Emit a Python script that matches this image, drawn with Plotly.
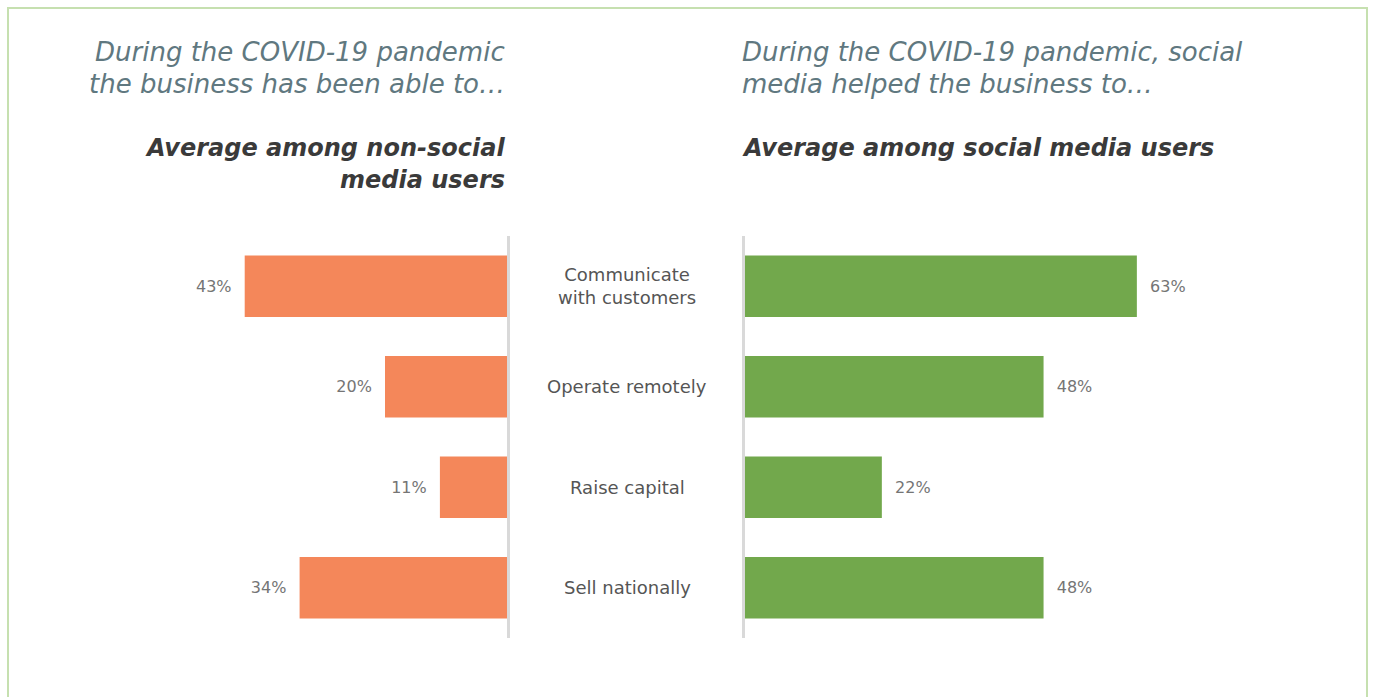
import plotly.graph_objects as go

W, H = 1373, 697

categories = ["Communicate<br>with customers", "Operate remotely", "Raise capital", "Sell nationally"]
non_social = [43, 20, 11, 34]
social = [63, 48, 22, 48]
left_title = ["During the COVID-19 pandemic", "the business has been able to…"]
left_sub = ["Average among non-social", "media users"]
right_title = ["During the COVID-19 pandemic, social", "media helped the business to…"]
right_sub = ["Average among social media users"]

ORANGE = "#F4875A"
GREEN = "#72A84C"
FONT = "DejaVu Sans"
NB = "\u00a0"

def px(x):
    return x / W

def py(y):
    return 1 - y / H

fig = go.Figure()

fig.add_trace(go.Bar(
    y=list(range(len(categories))), x=non_social, orientation="h",
    marker=dict(color=ORANGE, line=dict(width=0)), width=0.61,
    text=[f"{v}%{NB*2}" for v in non_social], textposition="outside",
    textfont=dict(family=FONT, size=16, color="#757575"),
    cliponaxis=False, xaxis="x", yaxis="y", showlegend=False, hoverinfo="skip",
))
fig.add_trace(go.Bar(
    y=list(range(len(categories))), x=social, orientation="h",
    marker=dict(color=GREEN, line=dict(width=0)), width=0.61,
    text=[f"{NB*2}{v}%" for v in social], textposition="outside",
    textfont=dict(family=FONT, size=16, color="#757575"),
    cliponaxis=False, xaxis="x2", yaxis="y2", showlegend=False, hoverinfo="skip",
))

ydom = [py(638), py(236)]
fig.update_layout(
    width=W, height=H, margin=dict(l=0, r=0, t=0, b=0),
    paper_bgcolor="white", plot_bgcolor="white",
    xaxis=dict(domain=[px(141), px(507)], range=[60, 0], visible=False, fixedrange=True),
    yaxis=dict(domain=ydom, range=[3.5, -0.5], anchor="x", side="right",
               showline=True, linecolor="#d9d9d9", linewidth=3,
               showticklabels=False, showgrid=False, zeroline=False, ticks=""),
    xaxis2=dict(domain=[px(745), px(745 + 75 * 6.22)], range=[0, 75], visible=False,
                anchor="y2", fixedrange=True),
    yaxis2=dict(domain=ydom, range=[3.5, -0.5], anchor="x2", side="left",
                showline=True, linecolor="#d9d9d9", linewidth=3,
                showticklabels=False, showgrid=False, zeroline=False, ticks=""),
    bargap=0.39,
)

annotations = []
for i, c in enumerate(categories):
    annotations.append(dict(
        x=px(627), xref="paper", y=i, yref="y", text=c, showarrow=False,
        xanchor="center", yanchor="middle", align="center",
        font=dict(family=FONT, size=18, color="#555555"),
    ))

def add_lines(lines, x, y0, anchor, size, color, weight, step=32):
    for k, t in enumerate(lines):
        annotations.append(dict(
            x=px(x), xref="paper", y=py(y0 + k * step), yref="paper",
            text=f"<i>{t}</i>", showarrow=False, xanchor=anchor, yanchor="middle",
            font=dict(family=FONT, size=size, color=color, weight=weight),
        ))

add_lines(left_title, 507, 52, "right", 26, "#607880", 400)
add_lines(left_sub, 507, 148, "right", 24, "#3a3a3a", 600)
add_lines(right_title, 740, 52, "left", 26, "#607880", 400)
add_lines(right_sub, 740, 148, "left", 24, "#3a3a3a", 600)

fig.update_layout(annotations=annotations)

fig.add_shape(type="rect", xref="paper", yref="paper",
              x0=px(8), x1=px(1367), y0=py(710), y1=py(8),
              line=dict(color="#c6e0b0", width=2), fillcolor="rgba(0,0,0,0)", layer="below")

fig.write_html("out.html")
